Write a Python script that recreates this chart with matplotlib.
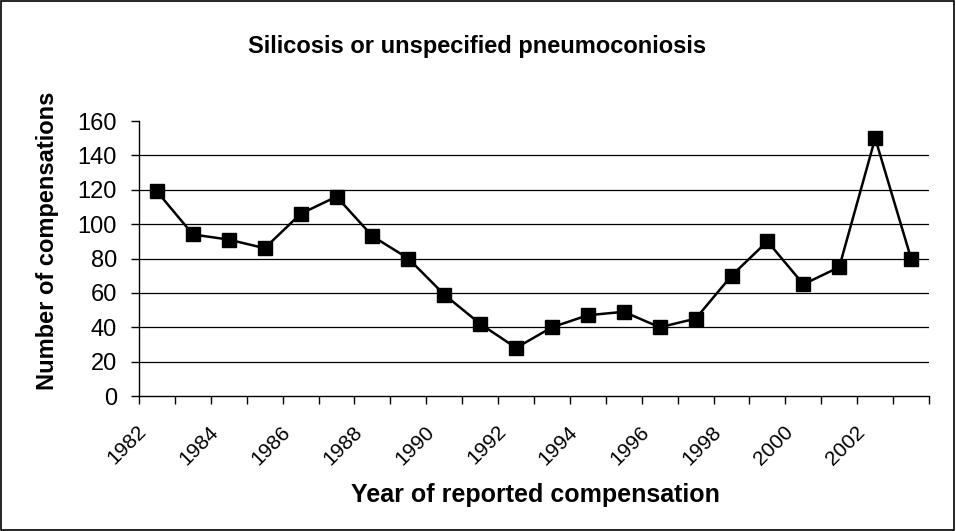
import numpy as np
import matplotlib
matplotlib.use("Agg")
import matplotlib.pyplot as plt
from matplotlib.patches import Rectangle
from matplotlib.transforms import ScaledTranslation

plt.rcParams['font.family'] = ['Liberation Sans', 'DejaVu Sans']

years = list(range(1982, 2004))
compensations = [119, 94, 91, 86, 106, 116, 93, 80, 59, 42, 28,
                 40, 47, 49, 40, 45, 70, 90, 65, 75, 150, 80]
year_labels = [str(y) if y % 2 == 0 else '' for y in years]

fig = plt.figure(figsize=(9.56, 5.31), dpi=100)
ax = fig.add_axes([0.1454, 0.2542, 0.8264, 0.5179])

x = np.arange(len(years))
ax.plot(x, compensations, color='black', lw=1.8, marker='s', ms=10.5,
        mfc='black', mec='black', zorder=3)

ax.set_xlim(-0.5, len(years) - 0.5)
ax.set_ylim(0, 160)
ax.set_yticks(np.arange(0, 161, 20))
for v in range(20, 160, 20):
    ax.axhline(v, color='black', lw=0.9, zorder=1)

# ticks between categories, labels drawn at category centres
ax.set_xticks(np.arange(-0.5, len(years), 1.0))
ax.set_xticklabels([])
ax.tick_params(axis='x', length=6, width=1, direction='out')
ax.tick_params(axis='y', length=6, width=1, labelsize=17, pad=10)

offset = ScaledTranslation(-20 / 100, -26 / 100, fig.dpi_scale_trans)
for xi, lab in zip(x, year_labels):
    if lab:
        ax.text(xi, 0, lab, transform=ax.get_xaxis_transform() + offset,
                rotation=45, ha='right', va='top', rotation_mode='anchor',
                fontsize=15, clip_on=False)

for s in ['top', 'right']:
    ax.spines[s].set_visible(False)
for s in ['left', 'bottom']:
    ax.spines[s].set_linewidth(1)

fig.text(48 / 956, 1 - 241 / 531, 'Number of compensations', rotation=90,
         ha='center', va='center', fontsize=17, fontweight='bold')
fig.text(535 / 956, 1 - 495 / 531, 'Year of reported compensation',
         ha='center', va='center', fontsize=18, fontweight='bold')
fig.text(477 / 956, 1 - 46 / 531, 'Silicosis or unspecified pneumoconiosis',
         ha='center', va='center', fontsize=17, fontweight='bold')

fig.patches.append(Rectangle((0.001, 0.002), 0.997, 0.996, transform=fig.transFigure,
                             fill=False, edgecolor='black', lw=1.2))

fig.savefig('out.png', dpi=100)
